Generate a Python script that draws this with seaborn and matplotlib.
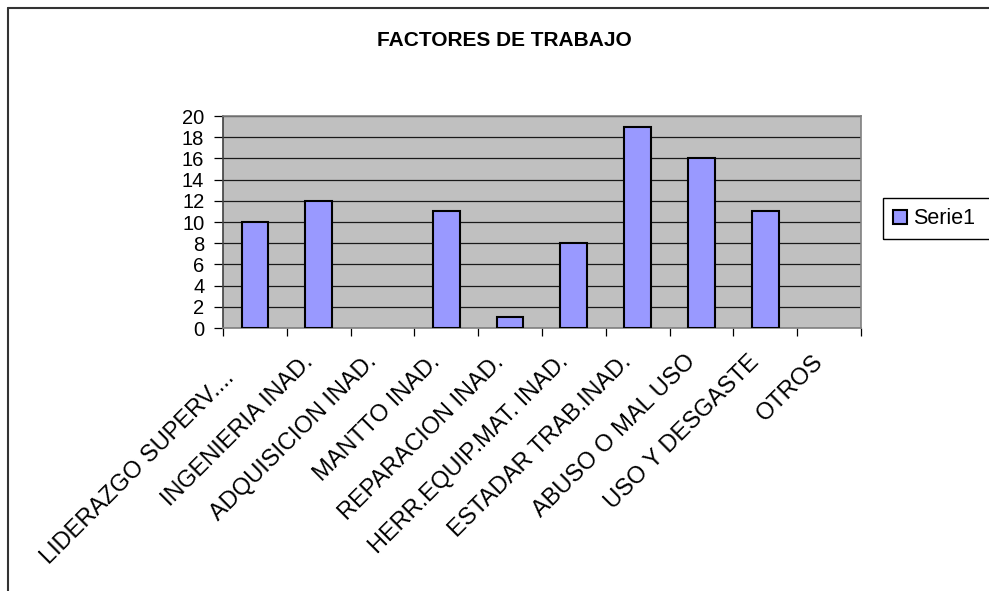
import numpy as np
import seaborn as sns
import matplotlib.pyplot as plt
import matplotlib.transforms as mtransforms
from matplotlib.lines import Line2D
from matplotlib.patches import Rectangle

categories = ['LIDERAZGO SUPERV....', 'INGENIERIA INAD.', 'ADQUISICION INAD.',
              'MANTTO INAD.', 'REPARACION INAD.', 'HERR.EQUIP.MAT. INAD.',
              'ESTADAR TRAB.INAD.', 'ABUSO O MAL USO', 'USO Y DESGASTE', 'OTROS']
values = [10, 12, 0, 11, 1, 8, 19, 16, 11, 0]
series_name = 'Serie1'
y_ticks = list(range(0, 21, 2))

sns.set_style('white')
plt.rcParams['font.family'] = ['Liberation Sans', 'DejaVu Sans']
plt.rcParams['text.color'] = 'black'
plt.rcParams['xtick.color'] = 'black'
plt.rcParams['ytick.color'] = 'black'
plt.rcParams['axes.labelcolor'] = 'black'

W, H = 989, 591
fig = plt.figure(figsize=(W / 100, H / 100), dpi=100)
ax = fig.add_axes([0.2255, 0.445, 0.645, 0.3587])
ax.set_facecolor('#C0C0C0')

sns.barplot(x=categories, y=values, color='#9999FF', saturation=1,
            edgecolor='black', linewidth=1.5, width=0.42, ax=ax, zorder=3)
# empty categories show no bar at all
for p, v in zip(ax.patches, values):
    if v == 0:
        p.set_visible(False)

# y axis
ax.set_ylim(0, 20)
ax.set_yticks(y_ticks)
ax.yaxis.grid(True, color='#1a1a1a', linewidth=0.9, zorder=1)
ax.set_axisbelow(True)
ax.tick_params(axis='y', direction='out', length=6.5, width=0.9, pad=7,
               labelsize=14.5, left=True, color='black')

# x axis: labels at centres, tick marks between categories
ax.set_xlim(-0.5, len(categories) - 0.5)
ax.set_xticks(np.arange(-0.5, len(categories), 1), minor=True)
ax.tick_params(axis='x', which='minor', direction='out', length=6, width=0.9,
               bottom=True, color='black')
ax.tick_params(axis='x', which='major', length=0, pad=25, labelsize=17)
for i, lab in enumerate(ax.get_xticklabels()):
    dx, dy = -5, 0
    if i == 0:
        dx, dy = -20, -16
    offset = mtransforms.ScaledTranslation(dx / 100, dy / 100, fig.dpi_scale_trans)
    lab.set_rotation(45)
    lab.set_ha('right')
    lab.set_va('baseline')
    lab.set_rotation_mode('anchor')
    lab.set_transform(lab.get_transform() + offset)
ax.set_xlabel('')
ax.set_ylabel('')

for side in ['top', 'right', 'bottom']:
    ax.spines[side].set_color('#808080')
    ax.spines[side].set_linewidth(1.2)
ax.spines['left'].set_color('#404040')
ax.spines['left'].set_linewidth(1.2)

fig.text(0.51, 0.931, 'FACTORES DE TRABAJO', ha='center', va='center',
         fontsize=15, fontweight='bold')

# legend, its box runs off the right edge
fig.add_artist(Rectangle((883 / W, 1 - 239 / H), 0.2, 41 / H, fill=False,
                         edgecolor='black', linewidth=1.0,
                         transform=fig.transFigure))
fig.legend([ax.patches[0]], [series_name], loc='center left',
           bbox_to_anchor=(893 / W, 1 - 219 / H), frameon=False,
           fontsize=15.5, handlelength=0.65, handleheight=0.65,
           handletextpad=0.3, borderpad=0, borderaxespad=0)

# chart area border (top and left visible)
fig.add_artist(Line2D([8 / W, 1.0], [1 - 8 / H, 1 - 8 / H],
                      color='#333333', linewidth=1.5, transform=fig.transFigure))
fig.add_artist(Line2D([8 / W, 8 / W], [0, 1 - 8 / H],
                      color='#333333', linewidth=1.5, transform=fig.transFigure))

fig.savefig('out.png', dpi=100)
